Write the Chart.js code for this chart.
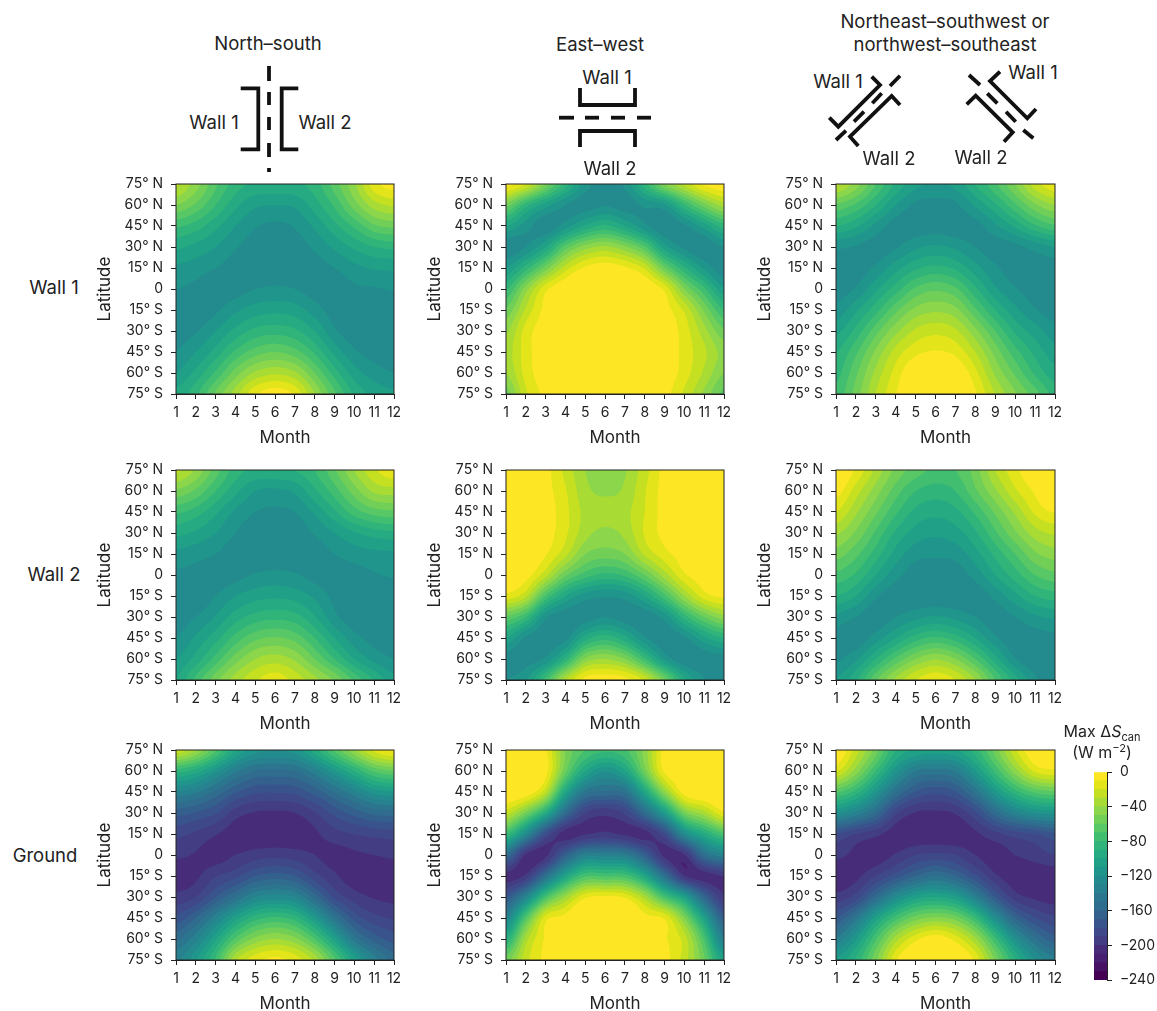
<!DOCTYPE html>
<html>
<head>
<meta charset="utf-8">
<script src="https://cdn.jsdelivr.net/npm/chart.js@4"></script>
<style>
  body { margin: 0; background: #fff; }
  #page { position: relative; width: 1157px; height: 1011px; overflow: hidden; font-family: Inter, sans-serif; color: #222; }
  #page canvas, #page svg { position: absolute; }
  .txt { position: absolute; transform: translate(-50%, -50%); white-space: nowrap; font-size: 18.5px; line-height: 1; }
  .txt i { font-style: italic; }
  .txt sub { font-size: 11px; line-height: 0; vertical-align: -4px; }
  .txt sup { font-size: 11px; line-height: 0; vertical-align: 6px; }
</style>
</head>
<body>
<div id="page"></div>
<script>
const months = [1, 2, 3, 4, 5, 6, 7, 8, 9, 10, 11, 12];
const latitudes = [75, 60, 45, 30, 15, 0, -15, -30, -45, -60, -75];
const latLabels = ['75° N', '60° N', '45° N', '30° N', '15° N', '0', '15° S', '30° S', '45° S', '60° S', '75° S'];
const barTicks = [0, -40, -80, -120, -160, -200, -240];
const barLabels = ['0', '−40', '−80', '−120', '−160', '−200', '−240'];

// band edges go up in tens from -240, one colour per band
const bandEdges = [-240, -230, -220, -210, -200, -190, -180, -170, -160, -150, -140, -130, -120, -110, -100, -90, -80, -70, -60, -50, -40, -30, -20, -10, 0];
const bandColors = ['#440154', '#471164', '#482072', '#472c7a', '#433d84', '#3f4889', '#39548c', '#34608d', '#2f6c8e', '#2b768e', '#27818e', '#238b8d', '#1f958b', '#20a087', '#25aa82', '#31b47a', '#42be71', '#58c765', '#71cf57', '#8bd64a', '#a8db33', '#c5e021', '#e3e419', '#fde725'];

// rows run 75 N to 75 S, columns run month 1 to 12, W m-2
// values above 0 only shape the edge of the clipped yellow areas
const wall1NorthSouth = [
  [-28, -45, -68, -85, -92, -92, -92, -85, -65, -42, -14, -5],
  [-50, -62, -80, -97, -108, -110, -108, -95, -78, -55, -35, -28],
  [-78, -85, -97, -110, -119, -122, -119, -108, -93, -78, -62, -57],
  [-98, -103, -110, -119, -125, -127, -125, -118, -108, -98, -90, -87],
  [-112, -115, -120, -125, -128, -128, -128, -125, -120, -113, -109, -108],
  [-120, -123, -128, -125, -120, -118, -120, -125, -127, -122, -121, -119],
  [-126, -128, -122, -112, -105, -103, -105, -115, -125, -128, -127, -126],
  [-125, -121, -110, -97, -87, -84, -88, -100, -118, -127, -128, -127],
  [-120, -110, -96, -78, -65, -60, -66, -82, -103, -118, -124, -125],
  [-110, -97, -78, -55, -38, -32, -38, -60, -85, -105, -115, -120],
  [-97, -83, -58, -35, -12, -4, -12, -40, -68, -92, -103, -108]
];
const wall1EastWest = [
  [-5, -20, -53, -85, -115, -125, -118, -85, -50, -28, -8, -2],
  [-55, -85, -105, -120, -125, -121, -125, -118, -112, -82, -55, -35],
  [-100, -115, -127, -115, -98, -88, -100, -117, -128, -122, -105, -85],
  [-128, -120, -100, -65, -45, -38, -48, -68, -105, -122, -128, -120],
  [-110, -85, -55, -25, -8, -3, -8, -22, -58, -88, -112, -128],
  [-82, -45, -13, 2, 10, 13, 10, 3, -13, -50, -78, -108],
  [-58, -28, -6, 8, 13, 15, 13, 8, -5, -22, -52, -80],
  [-42, -16, -2, 11, 15, 16, 15, 11, -1, -15, -36, -58],
  [-35, -15, 0, 12, 15, 16, 15, 12, 0, -14, -28, -44],
  [-40, -16, -2, 11, 15, 16, 15, 11, -1, -15, -32, -50],
  [-55, -22, -6, 8, 13, 15, 13, 8, -5, -22, -42, -63]
];
const wall1Diagonal = [
  [-28, -45, -70, -92, -107, -111, -107, -90, -72, -50, -25, -12],
  [-62, -72, -90, -110, -122, -124, -122, -108, -92, -72, -52, -40],
  [-90, -98, -113, -125, -126, -125, -126, -124, -112, -98, -82, -72],
  [-118, -121, -125, -121, -112, -108, -112, -120, -125, -123, -116, -110],
  [-125, -125, -118, -104, -92, -87, -92, -106, -118, -125, -125, -125],
  [-125, -119, -102, -85, -68, -62, -68, -88, -108, -119, -125, -127],
  [-117, -102, -84, -63, -47, -42, -47, -68, -90, -107, -119, -125],
  [-103, -87, -64, -43, -28, -23, -28, -47, -70, -92, -105, -116],
  [-91, -72, -48, -26, -13, -9, -13, -30, -54, -76, -93, -106],
  [-84, -62, -37, -16, 2, 7, 1, -17, -42, -62, -82, -96],
  [-77, -56, -30, -11, 8, 18, 7, -9, -31, -49, -66, -84]
];
const wall2NorthSouth = [
  [-27, -42, -65, -85, -92, -92, -90, -80, -62, -40, -22, -12],
  [-52, -62, -80, -97, -110, -112, -108, -92, -75, -55, -38, -35],
  [-78, -85, -98, -112, -120, -122, -120, -108, -92, -75, -65, -62],
  [-97, -102, -110, -120, -126, -128, -126, -119, -110, -101, -95, -92],
  [-113, -116, -120, -126, -128, -128, -128, -126, -120, -115, -113, -112],
  [-122, -124, -127, -124, -119, -117, -119, -124, -127, -125, -121, -119],
  [-127, -128, -120, -110, -104, -102, -104, -112, -123, -128, -128, -125],
  [-126, -120, -109, -95, -86, -83, -86, -99, -117, -127, -128, -128],
  [-120, -108, -94, -76, -63, -59, -64, -80, -100, -116, -124, -126],
  [-110, -96, -76, -55, -40, -35, -42, -60, -80, -100, -113, -120],
  [-100, -77, -54, -35, -22, -14, -24, -37, -52, -73, -91, -107]
];
const wall2EastWest = [
  [12, 6, -6, -23, -40, -46, -41, -24, -6, 5, 12, 14],
  [14, 8, -5, -19, -37, -42, -38, -21, -5, 6, 13, 15],
  [14, 8, -3, -17, -33, -35, -33, -20, -5, 6, 13, 15],
  [12, 7, -4, -18, -36, -43, -37, -19, -6, 5, 12, 14],
  [8, 2, -9, -27, -50, -55, -50, -28, -14, -3, 8, 10],
  [0, -5, -27, -58, -75, -83, -78, -60, -35, -12, -3, 0],
  [-13, -28, -72, -100, -115, -119, -116, -100, -73, -40, -15, -8],
  [-62, -80, -118, -127, -125, -120, -125, -127, -116, -85, -60, -44],
  [-100, -122, -127, -123, -95, -84, -96, -118, -128, -122, -103, -90],
  [-126, -125, -118, -88, -48, -40, -50, -78, -112, -128, -127, -125],
  [-120, -112, -77, -32, -6, -3, -6, -22, -56, -97, -120, -126]
];
const wall2Diagonal = [
  [5, -12, -33, -53, -65, -72, -70, -55, -30, -13, 1, 10],
  [-5, -25, -45, -65, -80, -85, -80, -62, -42, -22, -8, 8],
  [-20, -38, -58, -78, -93, -97, -93, -78, -58, -38, -18, -9],
  [-38, -52, -72, -92, -104, -108, -104, -92, -72, -52, -35, -28],
  [-55, -67, -85, -104, -116, -118, -116, -104, -87, -70, -52, -45],
  [-73, -82, -100, -116, -126, -127, -126, -116, -100, -85, -70, -63],
  [-90, -100, -118, -127, -128, -128, -128, -127, -117, -103, -90, -85],
  [-113, -120, -127, -120, -113, -109, -113, -120, -126, -120, -112, -108],
  [-124, -127, -115, -100, -85, -78, -85, -100, -118, -127, -125, -123],
  [-122, -112, -90, -68, -50, -41, -50, -70, -95, -119, -128, -127],
  [-110, -92, -62, -38, -20, -12, -20, -40, -70, -95, -118, -125]
];
const groundNorthSouth = [
  [-22, -40, -68, -100, -116, -120, -116, -95, -68, -42, -18, -8],
  [-85, -95, -116, -138, -151, -152, -150, -135, -113, -90, -68, -60],
  [-131, -138, -153, -169, -178, -179, -177, -166, -150, -133, -116, -111],
  [-166, -171, -179, -195, -201, -202, -200, -191, -177, -166, -157, -155],
  [-187, -192, -199, -206, -208, -208, -208, -202, -194, -190, -187, -185],
  [-198, -201, -205, -200, -195, -193, -195, -200, -204, -202, -200, -198],
  [-206, -202, -191, -183, -170, -165, -170, -186, -198, -206, -207, -206],
  [-197, -190, -170, -150, -130, -125, -130, -155, -182, -195, -201, -203],
  [-177, -160, -133, -105, -85, -78, -85, -111, -146, -174, -186, -191],
  [-153, -133, -102, -68, -47, -40, -47, -70, -105, -144, -164, -174],
  [-133, -111, -78, -32, -14, -7, -14, -33, -68, -105, -135, -155]
];
const groundEastWest = [
  [3, 6, -8, -50, -70, -78, -72, -45, -5, 6, 8, 8],
  [3, 5, -6, -58, -100, -118, -102, -55, -8, 0, 6, 8],
  [2, -2, -28, -100, -145, -152, -148, -100, -45, -5, 3, 6],
  [-25, -54, -95, -155, -190, -197, -188, -155, -110, -55, -35, -12],
  [-79, -125, -180, -205, -201, -197, -202, -204, -182, -125, -95, -72],
  [-152, -202, -203, -165, -135, -135, -138, -165, -203, -201, -152, -133],
  [-205, -197, -150, -102, -72, -72, -74, -100, -150, -199, -205, -200],
  [-172, -130, -73, -39, -12, -8, -12, -35, -73, -105, -160, -198],
  [-131, -68, -15, -5, 15, 18, 15, -5, -12, -50, -105, -166],
  [-92, -35, -8, 8, 25, 28, 25, 8, -8, -25, -72, -138],
  [-55, -24, -6, 12, 25, 28, 25, 12, -5, -25, -58, -105]
];
const groundDiagonal = [
  [2, -25, -55, -90, -102, -105, -102, -85, -55, -22, 0, 2],
  [-18, -45, -80, -116, -140, -144, -139, -111, -78, -45, -18, -12],
  [-68, -85, -116, -150, -171, -177, -171, -147, -113, -85, -68, -62],
  [-120, -133, -155, -188, -201, -202, -199, -182, -155, -133, -120, -116],
  [-180, -190, -197, -206, -208, -208, -208, -202, -193, -185, -180, -172],
  [-197, -203, -206, -199, -190, -187, -190, -200, -205, -200, -195, -190],
  [-207, -203, -190, -175, -160, -150, -160, -178, -198, -206, -207, -206],
  [-197, -185, -155, -125, -105, -100, -108, -135, -170, -195, -202, -205],
  [-171, -144, -105, -75, -55, -48, -55, -80, -122, -160, -179, -188],
  [-138, -111, -72, -35, -13, -3, -14, -38, -78, -120, -149, -166],
  [-108, -88, -52, -12, 6, 15, 6, -12, -52, -90, -120, -138]
];

const panelRows = [
  [wall1NorthSouth, wall1EastWest, wall1Diagonal],
  [wall2NorthSouth, wall2EastWest, wall2Diagonal],
  [groundNorthSouth, groundEastWest, groundDiagonal]
];
const axLefts = [176, 506, 836];
const axWidths = [218, 218, 219];
const axTops = [184, 470, 750];
const axHeight = 210;
const ink = '#222';

const page = document.getElementById('page');

const hexToRgb = hex => [1, 3, 5].map(i => parseInt(hex.slice(i, i + 2), 16));
const bandRgb = bandColors.map(hexToRgb);

// catmull-rom between the read grid values, so the filled bands come out smooth
const spline = (a, b, c, d, t) =>
  b + 0.5 * t * (c - a + t * (2 * a - 5 * b + 4 * c - d + t * (3 * (b - c) + d - a)));

const sampleGrid = (grid, u, v) => {
  const rowCount = grid.length, colCount = grid[0].length;
  const c0 = Math.min(Math.floor(u), colCount - 2), r0 = Math.min(Math.floor(v), rowCount - 2);
  const tu = u - c0, tv = v - r0;
  const col = i => Math.max(0, Math.min(colCount - 1, i));
  const row = i => Math.max(0, Math.min(rowCount - 1, i));
  const across = [];
  for (let r = r0 - 1; r <= r0 + 2; r++) {
    const line = grid[row(r)];
    across.push(spline(line[col(c0 - 1)], line[c0], line[c0 + 1], line[col(c0 + 2)], tu));
  }
  return spline(across[0], across[1], across[2], across[3], tv);
};

const bandIndex = value => {
  if (value >= bandEdges[bandEdges.length - 1]) return bandColors.length - 1;
  for (let i = 0; i < bandColors.length; i++) {
    if (value < bandEdges[i + 1]) return i;
  }
  return 0;
};

// filled contours, read back through the chart's own scales
const contourFill = {
  id: 'contourFill',
  beforeDatasetsDraw(chart) {
    const grid = chart.config.options.plugins.contourFill.grid;
    if (!grid) return;
    const area = chart.chartArea, x = chart.scales.x, y = chart.scales.y;
    const scale = 2;
    const w = Math.round(area.width * scale), h = Math.round(area.height * scale);
    const off = document.createElement('canvas');
    off.width = w;
    off.height = h;
    const octx = off.getContext('2d');
    const img = octx.createImageData(w, h);
    for (let py = 0; py < h; py++) {
      const lat = y.getValueForPixel(area.top + (py + 0.5) / scale);
      const v = (latitudes[0] - lat) / (latitudes[0] - latitudes[1]);
      for (let px = 0; px < w; px++) {
        const month = x.getValueForPixel(area.left + (px + 0.5) / scale);
        const value = sampleGrid(grid, Math.max(0, month - months[0]), Math.max(0, v));
        const rgb = bandRgb[bandIndex(value)];
        const at = (py * w + px) * 4;
        img.data[at] = rgb[0];
        img.data[at + 1] = rgb[1];
        img.data[at + 2] = rgb[2];
        img.data[at + 3] = 255;
      }
    }
    octx.putImageData(img, 0, 0);
    const ctx = chart.ctx;
    ctx.save();
    ctx.imageSmoothingEnabled = true;
    ctx.drawImage(off, area.left, area.top, area.width, area.height);
    ctx.restore();
  },
  afterDatasetsDraw(chart) {
    if (!chart.config.options.plugins.contourFill.grid) return;
    const area = chart.chartArea, ctx = chart.ctx;
    ctx.save();
    ctx.strokeStyle = ink;
    ctx.lineWidth = 1;
    ctx.strokeRect(area.left, area.top, area.width, area.height);
    ctx.restore();
  }
};
Chart.register(contourFill);

const addCanvas = (left, top, width, height) => {
  const canvas = document.createElement('canvas');
  canvas.width = width;
  canvas.height = height;
  canvas.style.left = left + 'px';
  canvas.style.top = top + 'px';
  page.appendChild(canvas);
  return canvas;
};

const tickFont = { family: 'Inter', size: 14 };
const titleFont = { family: 'Inter', size: 17 };

const drawPanel = (grid, left, top, width) => {
  const leftRoom = 81, topRoom = 20, rightRoom = 20, bottomRoom = 54;
  const canvas = addCanvas(left - leftRoom, top - topRoom, leftRoom + width + rightRoom, topRoom + axHeight + bottomRoom);
  const points = [];
  latitudes.forEach((lat, r) => months.forEach((month, c) => points.push({ x: month, y: lat, v: grid[r][c] })));
  new Chart(canvas, {
    type: 'scatter',
    data: { datasets: [{ data: points, pointRadius: 0, showLine: false }] },
    options: {
      responsive: false,
      animation: false,
      devicePixelRatio: 1,
      layout: { padding: { top: topRoom, right: rightRoom, left: 0, bottom: 0 } },
      plugins: { legend: { display: false }, tooltip: { enabled: false }, contourFill: { grid: grid } },
      scales: {
        x: {
          type: 'linear', min: months[0], max: months[months.length - 1],
          afterFit: s => { s.height = bottomRoom; },
          afterBuildTicks: s => { s.ticks = months.map(m => ({ value: m })); },
          border: { color: ink },
          grid: { drawOnChartArea: false, tickLength: 5, tickColor: ink },
          ticks: { color: ink, font: tickFont, padding: 5, maxRotation: 0, autoSkip: false, callback: v => String(v) },
          title: { display: true, text: 'Month', color: ink, font: titleFont, padding: 0 }
        },
        y: {
          type: 'linear', min: latitudes[latitudes.length - 1], max: latitudes[0],
          afterFit: s => { s.width = leftRoom; },
          afterBuildTicks: s => { s.ticks = latitudes.map(l => ({ value: l })); },
          border: { color: ink },
          grid: { drawOnChartArea: false, tickLength: 5, tickColor: ink },
          ticks: { color: ink, font: tickFont, padding: 8, autoSkip: false, callback: v => latLabels[latitudes.indexOf(v)] },
          title: { display: true, text: 'Latitude', color: ink, font: titleFont, padding: 0 }
        }
      }
    }
  });
};

panelRows.forEach((row, r) => row.forEach((grid, c) => drawPanel(grid, axLefts[c], axTops[r], axWidths[c])));

// colour bar: one floating bar per band on the same value axis
const drawColorBar = () => {
  const left = 1094, top = 772, width = 13, height = 208, room = 20, rightRoom = 50;
  const canvas = addCanvas(left, top - room, width + rightRoom, height + room * 2);
  new Chart(canvas, {
    type: 'bar',
    data: {
      labels: ['band'],
      datasets: bandColors.map((color, i) => ({
        data: [[bandEdges[i], bandEdges[i + 1]]],
        backgroundColor: color,
        borderWidth: 0,
        barPercentage: 1,
        categoryPercentage: 1
      }))
    },
    options: {
      responsive: false,
      animation: false,
      devicePixelRatio: 1,
      layout: { padding: { top: room, bottom: room, left: 0, right: 0 } },
      plugins: { legend: { display: false }, tooltip: { enabled: false }, contourFill: { grid: null } },
      scales: {
        x: { display: false, stacked: true },
        y: {
          position: 'right', min: bandEdges[0], max: bandEdges[bandEdges.length - 1],
          afterFit: s => { s.width = rightRoom; },
          afterBuildTicks: s => { s.ticks = barTicks.map(v => ({ value: v })); },
          border: { color: ink },
          grid: { drawOnChartArea: false, tickLength: 5, tickColor: ink },
          ticks: { color: ink, font: tickFont, padding: 8, autoSkip: false, callback: v => barLabels[barTicks.indexOf(v)] }
        }
      }
    }
  });
};
drawColorBar();

// headings, row names and street sketches
const addText = (html, x, y, size) => {
  const el = document.createElement('div');
  el.className = 'txt';
  el.innerHTML = html;
  el.style.left = x + 'px';
  el.style.top = y + 'px';
  if (size) el.style.fontSize = size + 'px';
  page.appendChild(el);
};

addText('North–south', 268, 43);
addText('East–west', 600, 44);
addText('Northeast–southwest or', 945, 21);
addText('northwest–southeast', 945, 44);
addText('Wall 1', 54, 287);
addText('Wall 2', 54, 574);
addText('Ground', 45, 855);
addText('Wall 1', 214, 122);
addText('Wall 2', 325, 122);
addText('Wall 1', 607, 77);
addText('Wall 2', 610, 168);
addText('Wall 1', 838, 81);
addText('Wall 2', 889, 158);
addText('Wall 2', 981, 157);
addText('Wall 1', 1033, 72);
addText('Max Δ<i>S</i><sub>can</sub>', 1102, 731, 16);
addText('(W m<sup>−2</sup>)', 1102, 752, 16);

const sketchLines = [
  '240.7,88.3 258.3,88.3 258.3,149.3 240.7,149.3',
  '298.3,88.3 281.7,88.3 281.7,149.3 298.3,149.3',
  '269,66 269,81', '269,92 269,105', '269,117 269,130', '269,143 269,157', '269,168 269,172',
  '580,88 580,105 635,105 635,88',
  '580,147 580,131 635,131 635,147',
  '559,117.7 574,117.7', '585,117.7 599,117.7', '611,117.7 625,117.7', '637,117.7 651,117.7',
  '871.7,76.7 880,85 838.3,126.7 829.3,117.7',
  '900,105 891.7,96 850,136.7 858.3,146',
  '900,75.7 890,86', '881.7,93.3 872.3,103.3', '864,111.7 854,121.7', '846,130.7 836,140',
  '1000,71.7 990,81 1027.3,118.3 1036,109',
  '966.7,104.3 975.7,95.7 1012.7,132.3 1004,141.7',
  '969,75 980,85', '987.3,93.3 997.3,103.3', '1006,111.7 1015.7,121.7', '1023.3,130 1033.3,138.3'
];
const svg = document.createElementNS('http://www.w3.org/2000/svg', 'svg');
svg.setAttribute('width', '1157');
svg.setAttribute('height', '184');
svg.style.left = '0';
svg.style.top = '0';
sketchLines.forEach(points => {
  const line = document.createElementNS('http://www.w3.org/2000/svg', 'polyline');
  line.setAttribute('points', points);
  line.setAttribute('fill', 'none');
  line.setAttribute('stroke', '#111');
  line.setAttribute('stroke-width', '3.8');
  svg.appendChild(line);
});
page.appendChild(svg);
</script>
</body>
</html>
